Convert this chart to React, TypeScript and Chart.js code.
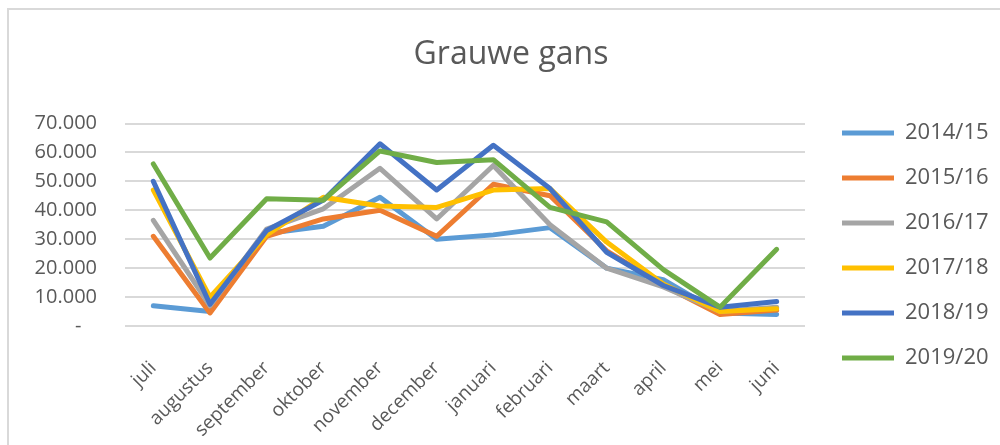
import React, { useEffect, useRef } from "react";
import { Chart, registerables } from "chart.js";

Chart.register(...registerables);

const months = ["juli", "augustus", "september", "oktober", "november", "december", "januari", "februari", "maart", "april", "mei", "juni"];
const seasons = ["2014/15", "2015/16", "2016/17", "2017/18", "2018/19", "2019/20"];
const s201415 = [7000, 5000, 32000, 34500, 44500, 30000, 31500, 34000, 20000, 16000, 4500, 4000];
const s201516 = [31000, 4500, 31000, 37000, 40000, 31000, 49000, 45000, 26000, 14000, 4000, 5500];
const s201617 = [36500, 7000, 33500, 40500, 54500, 37000, 55500, 35000, 20000, 13500, 5000, 6500];
const s201718 = [47000, 10000, 31500, 44500, 41500, 41000, 47000, 47500, 29000, 14500, 5000, 6000];
const s201819 = [50000, 7500, 33000, 43500, 63000, 47000, 62500, 47500, 25500, 14000, 6500, 8500];
const s201920 = [56000, 23500, 44000, 43500, 60500, 56500, 57500, 41000, 36000, 19500, 6500, 26500];
const seriesValues = [s201415, s201516, s201617, s201718, s201819, s201920];
const colors = ["#5B9BD5", "#ED7D31", "#A5A5A5", "#FFC000", "#4472C4", "#70AD47"];
const yMin = 0;
const yMax = 70000;
const yStep = 10000;

const FONT = "'Open Sans'";
const TEXT = "#595959";
const LEGEND_WIDTH = 174;

function fmt(v: number): string {
  if (v === 0) return "-   ";
  return String(v).replace(/\B(?=(\d{3})+(?!\d))/g, ".");
}

const legendWidthPlugin = {
  id: "legendWidth",
  beforeLayout(chart: any) {
    const lg = chart.legend;
    if (lg && !lg.__patched) {
      const orig = lg.fit.bind(lg);
      lg.fit = () => {
        orig();
        lg.width = LEGEND_WIDTH;
      };
      lg.__patched = true;
    }
  },
};

export default function App() {
  const ref = useRef<HTMLCanvasElement | null>(null);

  useEffect(() => {
    document.body.style.margin = "0";
    document.body.style.overflow = "hidden";
    const canvas = ref.current;
    if (!canvas) return;
    const chart = new Chart(canvas, {
      type: "line",
      data: {
        labels: months,
        datasets: seasons.map((s, i) => ({
          label: s,
          data: seriesValues[i],
          borderColor: colors[i],
          backgroundColor: colors[i],
          borderWidth: 5,
          pointRadius: 0,
          pointHoverRadius: 0,
          borderCapStyle: "round" as const,
          borderJoinStyle: "round" as const,
          tension: 0,
          fill: false,
          order: seasons.length - 1 - i,
        })),
      },
      plugins: [legendWidthPlugin],
      options: {
        responsive: false,
        animation: false,
        events: [],
        devicePixelRatio: 1,
        layout: { padding: { left: 20, right: 20, top: 0, bottom: 0 } },
        plugins: {
          tooltip: { enabled: false },
          title: {
            display: true,
            text: "Grauwe gans",
            color: TEXT,
            font: { family: FONT, size: 32, weight: "normal" },
            padding: { top: 25.8, bottom: 24.8 },
          },
          legend: {
            display: true,
            position: "right",
            align: "start",
            title: {
              display: true,
              text: " ",
              font: { family: FONT, size: 10 },
              padding: { top: 77, bottom: 0 },
            },
            labels: {
              usePointStyle: true,
              pointStyle: "line",
              pointStyleWidth: 52,
              padding: 23,
              color: TEXT,
              font: { family: FONT, size: 22 },
              sort: (a: any, b: any) => a.datasetIndex - b.datasetIndex,
            },
          },
        },
        scales: {
          x: {
            type: "category",
            position: "bottom",
            offset: true,
            grid: { display: false },
            border: { display: false },
            ticks: {
              color: TEXT,
              font: { family: FONT, size: 19 },
              minRotation: 45,
              maxRotation: 45,
              padding: 23,
              autoSkip: false,
            },
            afterFit: (s: any) => {
              s.height = 119;
            },
          },
          xTop: {
            type: "category",
            position: "top",
            display: true,
            grid: { display: false },
            border: { display: false },
            ticks: { display: false },
            afterFit: (s: any) => {
              s.height = 24.5;
            },
          },
          y: {
            type: "linear",
            position: "left",
            min: yMin,
            max: yMax,
            grid: { color: "#D9D9D9", lineWidth: 2, drawTicks: false },
            border: { display: false },
            ticks: {
              stepSize: yStep,
              color: TEXT,
              font: { family: FONT, size: 20 },
              padding: 28,
              callback: (v: any) => fmt(Number(v)),
            },
            afterFit: (s: any) => {
              s.width = 96;
            },
          },
          y2: {
            type: "linear",
            position: "right",
            display: true,
            grid: { display: false },
            border: { display: false },
            ticks: { display: false },
            afterFit: (s: any) => {
              s.width = 14;
            },
          },
        },
      },
    } as any);
    return () => chart.destroy();
  }, []);

  return (
    <div
      style={{
        position: "absolute",
        left: 7,
        top: 8,
        width: 993,
        height: 437,
        overflow: "hidden",
        borderLeft: "2px solid #D9D9D9",
        borderTop: "2px solid #D9D9D9",
        background: "#fff",
      }}
    >
      <canvas ref={ref} width={1004} height={435} style={{ display: "block" }} />
    </div>
  );
}
